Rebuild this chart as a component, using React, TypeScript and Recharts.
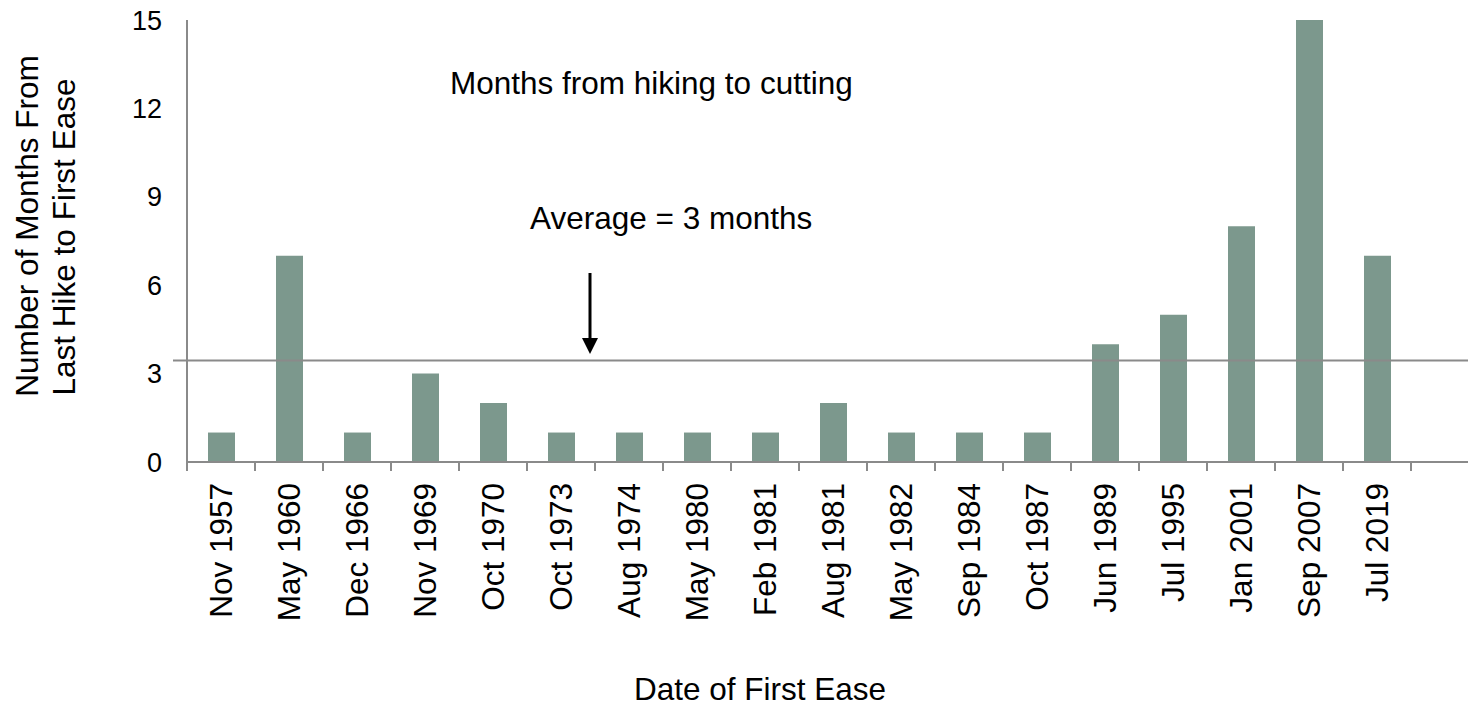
import React from "react"
import { BarChart, Bar, XAxis, YAxis, ReferenceLine } from "recharts"

const categories = [
  "Nov 1957", "May 1960", "Dec 1966", "Nov 1969", "Oct 1970", "Oct 1973",
  "Aug 1974", "May 1980", "Feb 1981", "Aug 1981", "May 1982", "Sep 1984",
  "Oct 1987", "Jun 1989", "Jul 1995", "Jan 2001", "Sep 2007", "Jul 2019",
]
const months = [1, 7, 1, 3, 2, 1, 1, 1, 1, 2, 1, 1, 1, 4, 5, 8, 15, 7]
const yTicks = [0, 3, 6, 9, 12, 15]

const data = categories.map((name, i) => ({ name, months: months[i] }))
const average = months.reduce((a, b) => a + b, 0) / months.length

const W = 1468
const H = 708
const PLOT_LEFT = 187
const PLOT_TOP = 20
const AXIS_Y = 462
const PAD_RIGHT = 57
const SLOT = (W - PLOT_LEFT - PAD_RIGHT) / categories.length

const FONT = "'Liberation Sans', Arial, sans-serif"
const AXIS_GRAY = "#8a8a8a"
const BAR_FILL = "#7c988d"

function DateTick(props: any) {
  const { x, payload, index } = props
  const isLast = index === categories.length - 1
  return (
    <g>
      <line x1={x - SLOT / 2} y1={AXIS_Y} x2={x - SLOT / 2} y2={AXIS_Y + 9} stroke={AXIS_GRAY} strokeWidth={2} />
      {isLast && (
        <line x1={x + SLOT / 2} y1={AXIS_Y} x2={x + SLOT / 2} y2={AXIS_Y + 9} stroke={AXIS_GRAY} strokeWidth={2} />
      )}
      <text
        x={x}
        y={AXIS_Y + 21}
        dy="0.35em"
        textAnchor="end"
        transform={`rotate(-90, ${x}, ${AXIS_Y + 21})`}
        fill="#000"
        fontSize={31.5}
        fontFamily={FONT}
      >
        {payload.value}
      </text>
    </g>
  )
}

export default function App() {
  return (
    <div style={{ position: "absolute", left: 0, top: 0, width: W, height: H, background: "#fff" }}>
      <BarChart
        width={W}
        height={H}
        data={data}
        margin={{ top: PLOT_TOP, right: 0, bottom: 0, left: 0 }}
      >
        <XAxis
          dataKey="name"
          height={H - AXIS_Y}
          padding={{ left: 0, right: PAD_RIGHT }}
          tickLine={false}
          tickSize={0}
          tickMargin={0}
          interval={0}
          axisLine={{ stroke: AXIS_GRAY, strokeWidth: 2 }}
          tick={<DateTick />}
        />
        <YAxis
          width={PLOT_LEFT}
          domain={[0, 15]}
          ticks={yTicks}
          tickLine={false}
          tickSize={0}
          tickMargin={25}
          axisLine={{ stroke: AXIS_GRAY, strokeWidth: 2 }}
          tick={{ fill: "#000", fontSize: 27, fontFamily: FONT }}
        />
        <ReferenceLine
          y={average}
          stroke={AXIS_GRAY}
          strokeWidth={2}
          shape={(p: any) => (
            <line x1={p.x1 - 14} y1={p.y1} x2={p.x2} y2={p.y2} stroke={AXIS_GRAY} strokeWidth={2} />
          )}
        />
        <Bar dataKey="months" fill={BAR_FILL} barSize={27} isAnimationActive={false} />

        <text x={450} y={94} fontSize={31.5} fontFamily={FONT} fill="#000">
          Months from hiking to cutting
        </text>
        <text x={530} y={229} fontSize={31.5} fontFamily={FONT} fill="#000">
          Average = 3 months
        </text>
        <line x1={590} y1={273} x2={590} y2={340} stroke="#000" strokeWidth={3} />
        <polygon points="582,338 598,338 590,354" fill="#000" />

        <text x={760} y={700} textAnchor="middle" fontSize={31.5} fontFamily={FONT} fill="#000">
          Date of First Ease
        </text>
        <text x={38} y={226} textAnchor="middle" transform="rotate(-90, 38, 226)" fontSize={31.5} fontFamily={FONT} fill="#000">
          Number of Months From
        </text>
        <text x={75} y={237} textAnchor="middle" transform="rotate(-90, 75, 237)" fontSize={31.5} fontFamily={FONT} fill="#000">
          Last Hike to First Ease
        </text>
      </BarChart>
    </div>
  )
}
